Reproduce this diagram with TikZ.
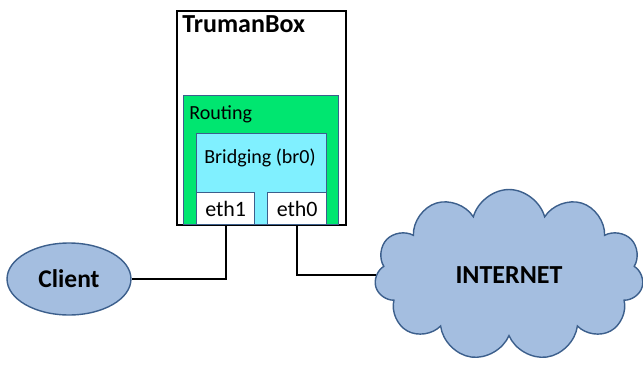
\documentclass[tikz,border=0pt]{standalone}
\usepackage{fontspec}
\setmainfont{Carlito}
\usepackage{tikz}
\usetikzlibrary{shapes.geometric,shapes.symbols}

\definecolor{routegreen}{RGB}{0,230,112}
\definecolor{bridgecyan}{RGB}{128,240,255}
\definecolor{netblue}{RGB}{164,190,224}
\definecolor{edgeblue}{RGB}{60,95,140}

\tikzset{
    box/.style={draw=edgeblue, line width=0.8pt, rectangle, anchor=north west, inner sep=0pt},
    link/.style={draw=black, line width=1.1pt},
    label/.style={anchor=north west, inner sep=0pt, font=\fontsize{11.4}{13}\selectfont}
}

\begin{document}
\begin{tikzpicture}[x=0.02cm, y=-0.02cm]
        \useasboundingbox (0,0) rectangle (643,365);

        % TrumanBox outer frame
        \node[box, draw=black, line width=1.1pt, fill=white, minimum width=3.38cm, minimum height=4.28cm] (truman) at (176,10) {};
        \node[label, font=\fontsize{14.8}{17}\selectfont\bfseries] (trumanlbl) at (182,15) {TrumanBox};

        % Routing section
        \node[box, fill=routegreen, minimum width=3.1cm, minimum height=2.58cm] (routing) at (183,95) {};
        \node[label] (routinglbl) at (189,105) {Routing};

        % Bridging section
        \node[box, fill=bridgecyan, minimum width=2.6cm, minimum height=1.82cm] (bridging) at (196,133) {};
        \node[label] (bridginglbl) at (204,148) {Bridging (br0)};

        % Interfaces
        \node[box, fill=white, minimum width=1.16cm, minimum height=0.64cm, font=\fontsize{12.5}{14}\selectfont] (eth1) at (196,192) {eth1};
        \node[box, fill=white, minimum width=1.18cm, minimum height=0.64cm, font=\fontsize{12.5}{14}\selectfont] (eth0) at (267,192) {eth0};

        % Client and Internet
        \node[ellipse, draw=edgeblue, line width=0.8pt, fill=netblue, minimum width=2.48cm, minimum height=1.44cm, font=\fontsize{14.5}{16}\selectfont\bfseries] (client) at (69,279) {Client};
        \node[cloud, cloud puffs=11, cloud ignores aspect, draw=edgeblue, line width=0.8pt, fill=netblue, minimum width=5.38cm, minimum height=3.42cm, font=\fontsize{14.8}{17}\selectfont\bfseries] (internet) at (509,275) {INTERNET};

        % Connections
        \draw[link] (eth1.south) |- (client.east);
        \draw[link] (eth0.south) |- (internet.west);
    \end{tikzpicture}
\end{document}
